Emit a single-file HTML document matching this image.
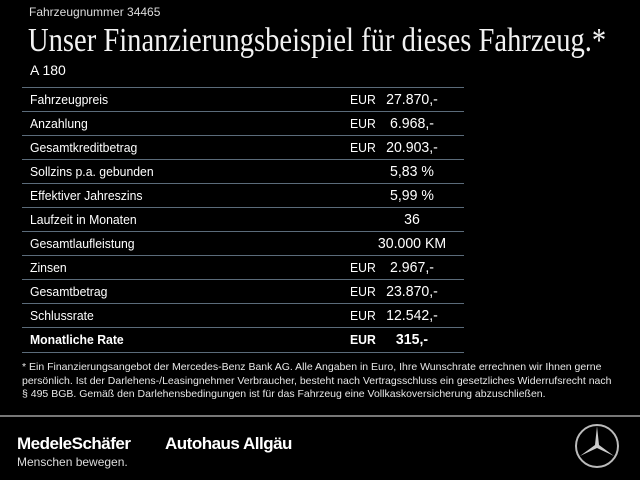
<!DOCTYPE html>
<html><head><meta charset="utf-8"><style>
*{margin:0;padding:0}
body{width:640px;height:480px;background:#000;color:#fff;font-family:"Liberation Sans",sans-serif;position:relative;overflow:hidden}
.a{position:absolute;white-space:nowrap}
.row{position:absolute;left:22px;width:442px;height:24px;border-top:1px solid #5b6b7a}
.row span{position:absolute;top:4px;font-size:13px;transform:scaleX(0.94);transform-origin:0 0}
.l{left:8px}
.e{left:328px}
.v{left:350px;width:80px;text-align:center;font-size:15px!important;top:3px!important;transform-origin:50% 0!important}
.b span{font-weight:bold}
</style></head><body>
<div class="a" style="left:29px;top:5px;font-size:12px;color:#ddd">Fahrzeugnummer 34465</div>
<div class="a" style="left:28px;top:22px;font-family:'Liberation Serif',serif;font-size:34px;transform:scaleX(0.84);transform-origin:0 0;color:#f2f2f2">Unser Finanzierungsbeispiel für dieses Fahrzeug.*</div>
<div class="a" style="left:30px;top:62px;font-size:14px">A 180</div>
<div class="row" style="top:87px"><span class="l">Fahrzeugpreis</span><span class="e">EUR</span><span class="v">27.870,-</span></div>
<div class="row" style="top:111px"><span class="l">Anzahlung</span><span class="e">EUR</span><span class="v">6.968,-</span></div>
<div class="row" style="top:135px"><span class="l">Gesamtkreditbetrag</span><span class="e">EUR</span><span class="v">20.903,-</span></div>
<div class="row" style="top:159px"><span class="l">Sollzins p.a. gebunden</span><span class="v">5,83 %</span></div>
<div class="row" style="top:183px"><span class="l">Effektiver Jahreszins</span><span class="v">5,99 %</span></div>
<div class="row" style="top:207px"><span class="l">Laufzeit in Monaten</span><span class="v">36</span></div>
<div class="row" style="top:231px"><span class="l">Gesamtlaufleistung</span><span class="v">30.000 KM</span></div>
<div class="row" style="top:255px"><span class="l">Zinsen</span><span class="e">EUR</span><span class="v">2.967,-</span></div>
<div class="row" style="top:279px"><span class="l">Gesamtbetrag</span><span class="e">EUR</span><span class="v">23.870,-</span></div>
<div class="row" style="top:303px"><span class="l">Schlussrate</span><span class="e">EUR</span><span class="v">12.542,-</span></div>
<div class="row b" style="top:327px;border-bottom:1px solid #5b6b7a"><span class="l">Monatliche Rate</span><span class="e">EUR</span><span class="v">315,-</span></div>
<div class="a" style="left:22px;top:361px;font-size:10.5px;line-height:13.6px;color:#e8e8e8">* Ein Finanzierungsangebot der Mercedes-Benz Bank AG. Alle Angaben in Euro, Ihre Wunschrate errechnen wir Ihnen gerne<br>persönlich. Ist der Darlehens-/Leasingnehmer Verbraucher, besteht nach Vertragsschluss ein gesetzliches Widerrufsrecht nach<br>§ 495 BGB. Gemäß den Darlehensbedingungen ist für das Fahrzeug eine Vollkaskoversicherung abzuschließen.</div>
<div class="a" style="left:0;top:415px;width:640px;height:2px;background:#777"></div>
<div class="a" style="left:17px;top:434px;font-size:17px;font-weight:bold;letter-spacing:-0.5px">MedeleSchäfer</div>
<div class="a" style="left:165px;top:434px;font-size:17px;font-weight:bold;letter-spacing:-0.5px">Autohaus Allgäu</div>
<div class="a" style="left:17px;top:455px;font-size:12px;color:#ddd">Menschen bewegen.</div>
<svg class="a" style="left:574px;top:423px" width="46" height="46" viewBox="0 0 46 46">
<circle cx="23" cy="23" r="21" fill="none" stroke="#bbb" stroke-width="2"/>
<polygon points="23,3 25,22 40,33 23,25 6,33 21,22" fill="#ccc"/>
</svg>
</body></html>
